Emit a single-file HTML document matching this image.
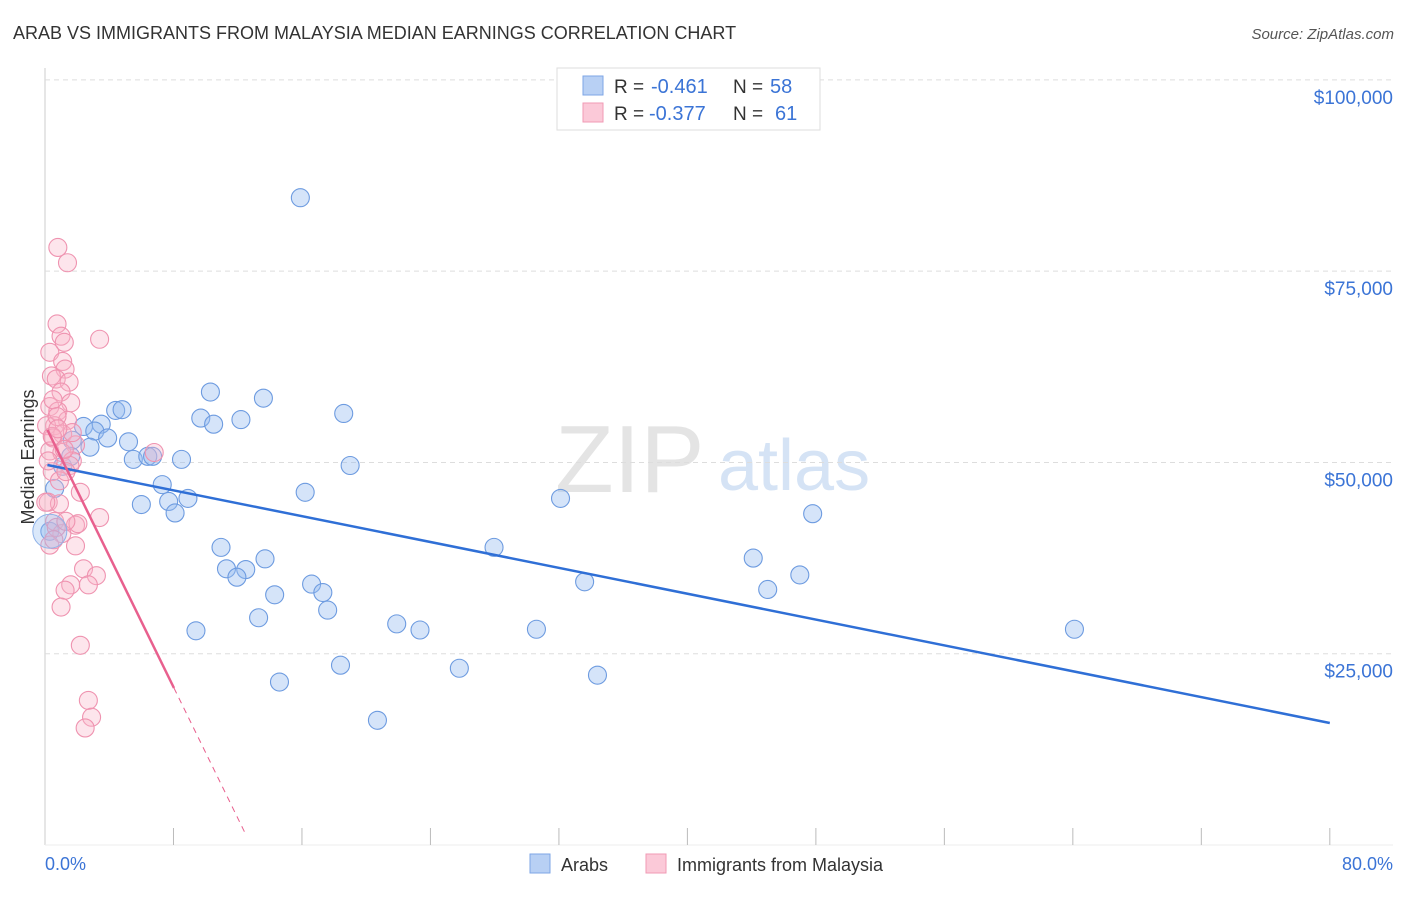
<!DOCTYPE html>
<html><head><meta charset="utf-8">
<style>
body{margin:0;background:#fff;font-family:"Liberation Sans",sans-serif;}
svg text{font-family:"Liberation Sans",sans-serif;}
</style></head>
<body>
<svg id="chart" width="1406" height="892" xmlns="http://www.w3.org/2000/svg">
<text x="13" y="39" font-size="18" fill="#333">ARAB VS IMMIGRANTS FROM MALAYSIA MEDIAN EARNINGS CORRELATION CHART</text>
<text x="1394" y="39" font-size="15" fill="#555" font-style="italic" text-anchor="end">Source: ZipAtlas.com</text>
<text x="555" y="492" font-size="96" fill="#e4e4e4" font-family="Liberation Serif">ZIP</text>
<text x="718" y="490" font-size="72" fill="#d5e3f5">atlas</text>
<g id="grid"></g>
<g id="pts"></g>
<g id="lines"></g>
<text transform="translate(34,457) rotate(-90)" font-size="18" fill="#333" text-anchor="middle">Median Earnings</text>
<text x="45" y="870" font-size="18" fill="#3b74d6">0.0%</text>
<text x="1393" y="870" font-size="18" fill="#3b74d6" text-anchor="end">80.0%</text>
<g>
<rect x="557" y="68" width="263" height="62" fill="#fff" stroke="#ddd"/>
<rect x="583" y="76" width="20" height="19" fill="#b8d0f4" stroke="#7ea6e6"/>
<rect x="583" y="103" width="20" height="19" fill="#fbc9d8" stroke="#f09ab4"/>
<text x="614" y="93" font-size="19" fill="#333">R =</text>
<text x="651" y="93" font-size="20" fill="#3b74d6">-0.461</text>
<text x="733" y="93" font-size="19" fill="#333">N =</text>
<text x="770" y="93" font-size="20" fill="#3b74d6">58</text>
<text x="614" y="120" font-size="19" fill="#333">R =</text>
<text x="649" y="120" font-size="20" fill="#3b74d6">-0.377</text>
<text x="733" y="120" font-size="19" fill="#333">N =</text>
<text x="775" y="120" font-size="20" fill="#3b74d6">61</text>
</g>
<g>
<rect x="530" y="854" width="20" height="19" fill="#b8d0f4" stroke="#7ea6e6"/>
<text x="561" y="871" font-size="18" fill="#333">Arabs</text>
<rect x="646" y="854" width="20" height="19" fill="#fbc9d8" stroke="#f09ab4"/>
<text x="677" y="871" font-size="18" fill="#333">Immigrants from Malaysia</text>
</g>
</svg>
<script>
const yTicks=[25000,50000,75000,100000];
const yTickLabels=["$25,000","$50,000","$75,000","$100,000"];
const arabX=[15.9,10.3,13.6,4.4,4.8,9.7,10.5,12.2,18.6,2.4,3.5,3.1,3.9,5.2,2.8,1.7,5.5,6.4,6.7,8.5,19.0,7.3,16.2,32.1,6.0,7.7,8.9,8.1,47.8,10.96,27.96,13.7,44.1,11.3,12.5,11.95,47.0,16.6,33.6,45.0,14.3,17.3,17.6,13.3,21.9,23.35,30.6,64.1,9.4,18.4,25.8,34.4,14.6,20.7,0.3,0.6,1.1,1.6];
const arabY=[84600,59200,58400,56800,56900,55800,55000,55600,56400,54700,55000,54100,53200,52700,52000,52900,50400,50800,50800,50400,49600,47100,46100,45300,44500,44900,45300,43400,43300,38900,38900,37400,37500,36100,36000,35000,35300,34100,34400,33400,32700,33000,30700,29700,28900,28100,28200,28200,28000,23500,23100,22200,21300,16300,41000,46600,49500,50800];
const malX=[0.8,1.4,0.75,1.0,1.2,3.4,0.3,1.1,1.25,0.4,0.7,1.5,1.0,1.6,0.3,0.8,1.4,0.6,0.1,1.1,0.5,1.9,0.3,1.05,6.8,1.7,0.45,2.2,0.2,0.6,1.9,1.05,2.05,3.4,1.9,2.4,3.2,1.6,2.7,1.25,1.0,2.2,2.7,2.9,2.5,0.5,0.75,0.2,0.9,0.3,0.7,1.3,1.55,0.9,0.45,1.2,1.7,0.8,0.05,0.55,1.3];
const malY=[78100,76100,68100,66500,65700,66100,64400,63200,62200,61300,60900,60500,59200,57800,57300,56700,55500,54800,54800,53700,53200,52300,51500,51300,51300,50200,48800,46100,44800,42300,41800,40700,42000,42800,39100,36100,35200,34000,34000,33300,31100,26100,18900,16700,15300,58200,56000,50200,47600,39200,41500,42300,49600,44600,53400,51700,53900,54400,44800,39900,48800];
const blueTrend=[49670,15950];
const pinkTrend=[54900,20520];
const pinkEndX=8.03, pinkDashX=12.5;
const X=v=>45+v*16.06, Y=v=>845-v/130.7;
const ns="http://www.w3.org/2000/svg";
function mk(t,a,p){const e=document.createElementNS(ns,t);for(const k in a)e.setAttribute(k,a[k]);p.appendChild(e);return e;}
const grid=document.getElementById('grid');
mk('line',{x1:45,y1:68,x2:45,y2:845,stroke:'#ccc'},grid);
mk('line',{x1:45,y1:845,x2:1393,y2:845,stroke:'#eee'},grid);
for(let i=0;i<yTicks.length;i++){
 const g=mk('line',{x1:45,y1:Y(yTicks[i]),x2:1393,y2:Y(yTicks[i]),stroke:'#ddd','stroke-dasharray':'5,4'},grid);
 
 
 const t=mk('text',{x:1393,y:Y(yTicks[i])+24,'font-size':19,fill:'#3b74d6','text-anchor':'end'},grid);
 t.textContent=yTickLabels[i];
 
 
}
for(let i=1;i<=10;i++){
 const l=mk('line',{x1:X(i*8),y1:828,x2:X(i*8),y2:845,stroke:'#bbb'},grid);
 
 
}
const pts=document.getElementById('pts');
arabX.forEach((x,i)=>{
 const c=mk('circle',{cx:X(x),cy:Y(arabY[i]),r:9,fill:'rgba(150,188,240,0.4)',stroke:'#6d9be0','stroke-width':1.1},pts);
 
 
});
malX.forEach((x,i)=>{
 const c=mk('circle',{cx:X(x),cy:Y(malY[i]),r:9,fill:'rgba(248,180,200,0.35)',stroke:'#ef93b0','stroke-width':1.1},pts);
 
 
});
const big1=mk('circle',{cx:X(0.3),cy:Y(41000),r:17,fill:'rgba(150,188,240,0.35)',stroke:'#8fb2e8'},pts);


const lines=document.getElementById('lines');
const bl=mk('line',{x1:X(0.15),y1:Y(blueTrend[0]),x2:X(80),y2:Y(blueTrend[1]),stroke:'#2f6fd6','stroke-width':2.5},lines);


const slope=(pinkTrend[1]-pinkTrend[0])/pinkEndX;
const pl=mk('line',{x1:X(0.15),y1:Y(pinkTrend[0]+slope*0.15),x2:X(pinkEndX),y2:Y(pinkTrend[1]),stroke:'#e8608e','stroke-width':2.5},lines);


const pd=mk('line',{x1:X(pinkEndX),y1:Y(pinkTrend[1]),x2:X(pinkDashX),y2:Y(pinkTrend[0]+slope*pinkDashX),stroke:'#e8608e','stroke-width':1,'stroke-dasharray':'6,5'},lines);


</script>
</body></html>
